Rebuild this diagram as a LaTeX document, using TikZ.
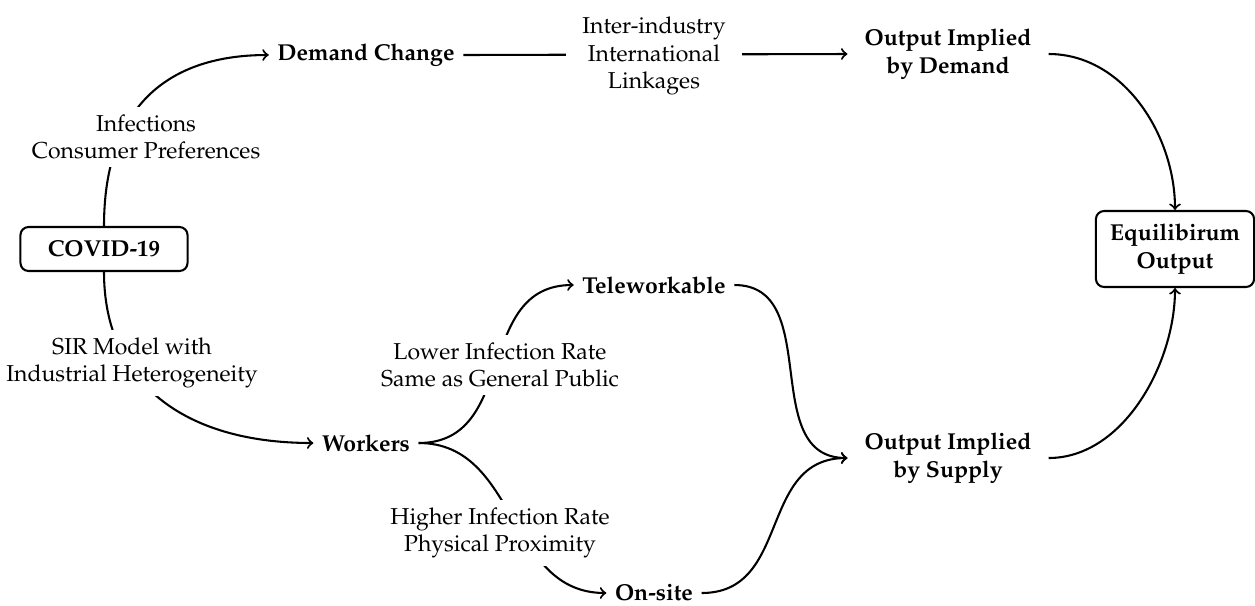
\documentclass[tikz,border=0pt]{standalone}
\usepackage[T1]{fontenc}
\usepackage{mathpazo}
\begin{document}
\begin{tikzpicture}[x=0.4345pt,y=-0.4345pt,line width=0.9pt,
  main/.style={font=\bfseries},
  outnode/.style={font=\bfseries,align=center,inner xsep=7pt},
  box/.style={draw,rounded corners=3.5pt,font=\bfseries,align=center},
  lbl/.style={fill=white,align=center}]
\useasboundingbox (0,0) rectangle (1255,605);
% main nodes
\node[box,minimum width=72.6pt,minimum height=19.1pt] (covid) at (104,249) {COVID-19};
\node[main] (demand) at (366,55) {Demand Change};
\node[outnode] (od) at (948,54) {Output Implied\\by Demand};
\node[outnode] (os) at (948,458) {Output Implied\\by Supply};
\node[box,minimum width=68.7pt,minimum height=33pt] (eq) at (1175,249) {Equilibirum\\Output};
\node[main] (workers) at (366,443) {Workers};
\node[main] (tele) at (654,285) {Teleworkable};
\node[main] (onsite) at (654,593) {On-site};
% connectors
\draw[->] (covid.north) .. controls +(0,-110) and +(-110,0) .. (demand.west);
\draw[->] (demand.east) -- (od.west);
\draw[->] (od.east) .. controls +(75,0) and +(0,-75) .. (eq.north);
\draw[->] (os.east) .. controls +(75,0) and +(0,75) .. (eq.south);
\draw[->] (covid.south) .. controls +(0,110) and +(-130,0) .. (workers.west);
\draw[->] (workers.east) .. controls +(100,0) and +(-100,0) .. (tele.west);
\draw[->] (workers.east) .. controls +(100,0) and +(-100,0) .. (onsite.west);
\draw[->] (tele.east) .. controls +(90,0) and +(-90,0) .. (os.west);
\draw[->] (onsite.east) .. controls +(90,0) and +(-90,0) .. (os.west);
% labels
\node[lbl] (l1) at (146,137) {Infections\\Consumer Preferences};
\node[lbl,inner xsep=7pt] (l2) at (654,56) {Inter-industry\\International\\Linkages};
\node[lbl] (l3) at (132,363) {SIR Model with\\Industrial Heterogeneity};
\node[lbl] (l4) at (500,365) {Lower Infection Rate\\Same as General Public};
\node[lbl] (l5) at (500,533) {Higher Infection Rate\\Physical Proximity};
\end{tikzpicture}
\end{document}
